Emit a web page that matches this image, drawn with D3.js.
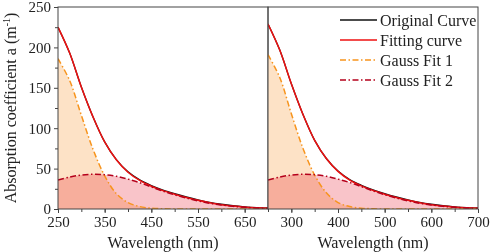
<!DOCTYPE html>
<html>
<head>
  <meta charset="utf-8">
  <title>Absorption coefficient - Gauss fit</title>
  <style>
    body { margin: 0; background: #fff; }
    svg text { font-family: "Liberation Serif", "Times New Roman", Times, "DejaVu Serif", serif !important; fill: #222; }
  </style>
  <script src="https://d3js.org/d3.v7.min.js"></script>
</head>
<body>
  <div id="chart"></div>
  <script>
    // Wavelength grid (nm) the values were read at
    const wavelengths = [250, 275, 300, 325, 350, 375, 400, 425, 450, 475, 500, 525, 550, 575, 600, 625, 650, 675, 700];

    // Left panel
    const leftOriginal = [225, 193, 151, 114, 83, 61, 46, 36, 29, 23.5, 19, 15, 11.4, 8.3, 5.9, 4, 2.6, 1.6, 1];
    const leftFitting  = [225, 193, 151, 114, 83, 61, 45.5, 35.3, 28.2, 22.7, 18.2, 14.2, 10.7, 7.7, 5.4, 3.6, 2.3, 1.5, 1];
    const leftGauss1   = [186, 159, 116, 74, 41, 19, 8, 3, 1, 0.3, 0, 0, 0, 0, 0, 0, 0, 0, 0];
    const leftGauss2   = [36, 39.5, 42, 43, 42.5, 40.5, 37, 32.5, 27.3, 22.2, 17.6, 13.6, 10.1, 7.1, 5, 3.3, 2.1, 1.3, 0.8];

    // Right panel
    const rightOriginal = [229, 197, 155, 117, 85, 62.5, 47, 36.5, 29.4, 23.8, 19.1, 15, 11.4, 8.3, 5.9, 4, 2.6, 1.6, 1];
    const rightFitting  = [229, 197, 155, 117, 85, 62.5, 46.5, 35.8, 28.6, 23, 18.3, 14.3, 10.7, 7.7, 5.4, 3.6, 2.3, 1.5, 1];
    const rightGauss1   = [191, 163, 118, 75, 42, 20, 8, 3, 1, 0.3, 0, 0, 0, 0, 0, 0, 0, 0, 0];
    const rightGauss2   = [36, 39.5, 42, 43, 42.5, 40.5, 37, 32.8, 27.7, 22.5, 17.7, 13.6, 10.1, 7.1, 5, 3.3, 2.1, 1.3, 0.8];

    // Tick labels
    const leftXLabels = [250, 350, 450, 550, 650];
    const rightXLabels = [300, 400, 500, 600, 700];
    const xMinorTicks = [250, 300, 350, 400, 450, 500, 550, 600, 650, 700];
    const yLabels = [0, 50, 100, 150, 200, 250];
    const yMinorTicks = [25, 75, 125, 175, 225];

    const legendNames = ["Original Curve", "Fitting curve", "Gauss Fit 1", "Gauss Fit 2"];

    const width = 491, height = 252;
    const serif = "'Liberation Serif', 'Times New Roman', Times, 'DejaVu Serif', serif";
    const svg = d3.select("#chart").append("svg")
      .attr("width", width)
      .attr("height", height)
      .attr("font-family", serif);

    const y = d3.scaleLinear().domain([0, 250]).range([209, 7]);

    const panels = [
      { x: d3.scaleLinear().domain([250, 700]).range([58, 268]), labels: leftXLabels,
        original: leftOriginal, fitting: leftFitting, g1: leftGauss1, g2: leftGauss2 },
      { x: d3.scaleLinear().domain([250, 700]).range([268, 478]), labels: rightXLabels,
        original: rightOriginal, fitting: rightFitting, g1: rightGauss1, g2: rightGauss2 }
    ];

    const colors = { original: "#111", fitting: "#ee1111", g1: "#f7941d", g2: "#b5001b" };
    const dashDot = "6,2.5,1.5,2.5";

    panels.forEach((p, i) => {
      const x = p.x;
      const clipId = "clip" + i;
      svg.append("clipPath").attr("id", clipId)
        .append("rect")
        .attr("x", x.range()[0]).attr("y", y(250))
        .attr("width", x.range()[1] - x.range()[0]).attr("height", y(0) - y(250));

      const g = svg.append("g").attr("clip-path", `url(#${clipId})`);

      const toPts = vals => wavelengths.map((w, j) => ({ w, v: vals[j] }));
      const area = d3.area().curve(d3.curveCatmullRom)
        .x(d => x(d.w)).y0(y(0)).y1(d => y(d.v));
      const line = d3.line().curve(d3.curveCatmullRom)
        .x(d => x(d.w)).y(d => y(d.v));

      // Fills, multiplied so the overlap turns salmon
      const fills = g.append("g").style("isolation", "isolate");
      fills.append("path").datum(toPts(p.g2)).attr("d", area)
        .attr("fill", "#f9c4c9").style("mix-blend-mode", "multiply");
      fills.append("path").datum(toPts(p.g1)).attr("d", area)
        .attr("fill", "#fde2c6").style("mix-blend-mode", "multiply");

      // Curves
      g.append("path").datum(toPts(p.original)).attr("d", line)
        .attr("fill", "none").attr("stroke", colors.original).attr("stroke-width", 1.3);
      g.append("path").datum(toPts(p.fitting)).attr("d", line)
        .attr("fill", "none").attr("stroke", colors.fitting).attr("stroke-width", 1.5);
      g.append("path").datum(toPts(p.g1)).attr("d", line)
        .attr("fill", "none").attr("stroke", colors.g1).attr("stroke-width", 1.5)
        .attr("stroke-dasharray", dashDot);
      g.append("path").datum(toPts(p.g2)).attr("d", line)
        .attr("fill", "none").attr("stroke", colors.g2).attr("stroke-width", 1.5)
        .attr("stroke-dasharray", dashDot);

      // Bottom axis: major labels + minor ticks
      const bottom = svg.append("g").attr("transform", `translate(0,${y(0)})`)
        .call(d3.axisBottom(x).tickValues(xMinorTicks).tickSize(3).tickFormat(""));
      const major = svg.append("g").attr("transform", `translate(0,${y(0)})`)
        .call(d3.axisBottom(x).tickValues(p.labels).tickSize(4).tickPadding(3));
      major.attr("font-family", serif).attr("font-size", 15);
      major.selectAll("text").attr("fill", "#222");
      [bottom, major].forEach(a => {
        a.select(".domain").remove();
        a.selectAll("line").attr("stroke", "#444");
      });

      svg.append("text")
        .attr("x", (x.range()[0] + x.range()[1]) / 2).attr("y", 248)
        .attr("text-anchor", "middle").attr("font-size", 16)
        .text("Wavelength (nm)");

      // Frame
      svg.append("rect")
        .attr("x", x.range()[0]).attr("y", y(250))
        .attr("width", x.range()[1] - x.range()[0]).attr("height", y(0) - y(250))
        .attr("fill", "none").attr("stroke", "#444").attr("stroke-width", 1);
    });

    // Left y axis
    const yMinor = svg.append("g").attr("transform", "translate(58,0)")
      .call(d3.axisLeft(y).tickValues(yMinorTicks).tickSize(3).tickFormat(""));
    const yMajor = svg.append("g").attr("transform", "translate(58,0)")
      .call(d3.axisLeft(y).tickValues(yLabels).tickSize(4).tickPadding(3));
    yMajor.attr("font-family", serif).attr("font-size", 15);
    yMajor.selectAll("text").attr("fill", "#222");
    [yMinor, yMajor].forEach(a => {
      a.select(".domain").remove();
      a.selectAll("line").attr("stroke", "#444");
    });

    const yTitle = svg.append("text")
      .attr("transform", `translate(16,${(y(0) + y(250)) / 2}) rotate(-90)`)
      .attr("text-anchor", "middle").attr("font-size", 16);
    yTitle.append("tspan").text("Absorption coefficient a (m");
    yTitle.append("tspan").attr("dy", -6).attr("font-size", 10).text("-1");
    yTitle.append("tspan").attr("dy", 6).text(")");

    // Legend
    const legendStyles = [
      { c: colors.original, dash: null },
      { c: colors.fitting, dash: null },
      { c: colors.g1, dash: dashDot },
      { c: colors.g2, dash: dashDot }
    ];
    const legend = svg.append("g");
    legendNames.forEach((name, i) => {
      const ly = 20 + i * 20;
      legend.append("line")
        .attr("x1", 340).attr("x2", 377).attr("y1", ly).attr("y2", ly)
        .attr("stroke", legendStyles[i].c).attr("stroke-width", 1.5)
        .attr("stroke-dasharray", legendStyles[i].dash);
      legend.append("text")
        .attr("x", 380).attr("y", ly + 5.5)
        .attr("font-size", 16)
        .text(name);
    });
  </script>
</body>
</html>
